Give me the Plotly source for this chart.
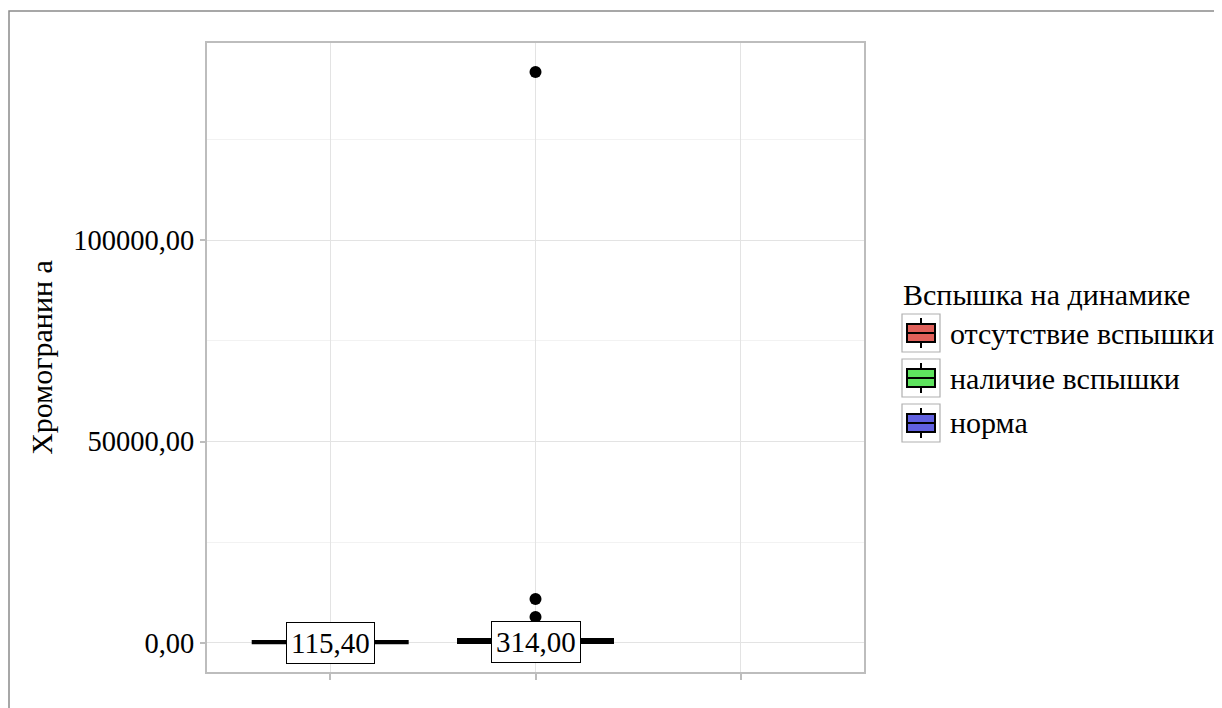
import plotly.graph_objects as go

# ---------------- data ----------------
categories = ["отсутствие вспышки", "наличие вспышки", "норма"]
colors = ["#e0605a", "#5ee35e", "#6060e0"]
q1 = [60.0, 150.0]
median = [115.40, 314.00]
q3 = [400.0, 850.0]
lowerfence = [20.0, 40.0]
upperfence = [900.0, 2400.0]
outlier_x = ["наличие вспышки", "наличие вспышки", "наличие вспышки"]
outlier_y = [141700.0, 10900.0, 6450.0]
median_labels = ["115,40", "314,00"]
ytick_vals = [0, 50000, 100000]
ytick_text = ["0,00", "50000,00", "100000,00"]
legend_title = "Вспышка на динамике"
y_title = "Хромогранин а"

# ---------------- layout geometry ----------------
W, H = 1222, 708
OFF = 8  # page body margin
L, R, T, B = 199, 366, 35, 44
pw, ph = W - L - R, H - T - B
FONT = "Liberation Serif"
FS_TICK = 28.5
FS_LAB = 29
FS_LEG = 30


def px(x):
    # x in screen pixels -> paper
    return (x - OFF - L) / pw


def py(y):
    return (H - B - (y - OFF)) / ph


fig = go.Figure()

for i in range(2):
    fig.add_trace(go.Box(
        x=[categories[i]], q1=[q1[i]], median=[median[i]], q3=[q3[i]],
        lowerfence=[lowerfence[i]], upperfence=[upperfence[i]],
        name=categories[i], fillcolor=colors[i],
        line=dict(color="black", width=3), width=0.75,
        boxpoints=False, showlegend=False, hoverinfo="skip",
    ))

# empty category placeholder
fig.add_trace(go.Box(x=[categories[2]], y=[None], name=categories[2],
                     showlegend=False, fillcolor=colors[2],
                     line=dict(color="black")))

fig.add_trace(go.Scatter(
    x=outlier_x, y=outlier_y, mode="markers",
    marker=dict(color="black", size=12), showlegend=False, hoverinfo="skip",
))

annotations = []
for i in range(2):
    annotations.append(dict(
        x=categories[i], y=median[i], xref="x", yref="y", text=median_labels[i],
        showarrow=False, font=dict(family=FONT, size=FS_LAB, color="black"),
        bgcolor="white", bordercolor="black", borderwidth=1, borderpad=4,
    ))

shapes = []
# outer frame
shapes.append(dict(type="rect", xref="paper", yref="paper",
                   x0=px(9), x1=px(1400), y0=py(900), y1=py(11),
                   line=dict(color="#8a8a8a", width=1.5), layer="below"))

# legend
annotations.append(dict(x=px(901), y=py(294), xref="paper", yref="paper",
                        xanchor="left", yanchor="middle", text=legend_title,
                        showarrow=False,
                        font=dict(family=FONT, size=FS_LEG, color="black")))
for i, cat in enumerate(categories):
    cy = 333 + 45 * i
    shapes.append(dict(type="rect", xref="paper", yref="paper",
                       x0=px(902), x1=px(940), y0=py(cy + 19), y1=py(cy - 19),
                       line=dict(color="#b0b0b0", width=1.2), fillcolor="white"))
    shapes.append(dict(type="line", xref="paper", yref="paper",
                       x0=px(921), x1=px(921), y0=py(cy + 15), y1=py(cy - 15),
                       line=dict(color="black", width=2)))
    shapes.append(dict(type="rect", xref="paper", yref="paper",
                       x0=px(907), x1=px(935), y0=py(cy + 9), y1=py(cy - 9),
                       line=dict(color="black", width=2), fillcolor=colors[i]))
    shapes.append(dict(type="line", xref="paper", yref="paper",
                       x0=px(907), x1=px(935), y0=py(cy), y1=py(cy),
                       line=dict(color="black", width=2)))
    annotations.append(dict(x=px(948), y=py(cy), xref="paper", yref="paper",
                            xanchor="left", yanchor="middle", text=cat,
                            showarrow=False,
                            font=dict(family=FONT, size=FS_LEG, color="black")))

fig.update_layout(
    width=W, height=H,
    margin=dict(l=L, r=R, t=T, b=B, autoexpand=False),
    paper_bgcolor="white", plot_bgcolor="white",
    font=dict(family=FONT, size=FS_TICK, color="black"),
    boxmode="overlay",
    showlegend=False,
    annotations=annotations,
    shapes=shapes,
)
fig.update_xaxes(
    type="category", categoryorder="array", categoryarray=categories,
    range=[-0.6, 2.6], showticklabels=False, ticks="outside", ticklen=6,
    tickcolor="#bdbdbd", tickwidth=1.5,
    showgrid=True, gridcolor="#e3e3e3", gridwidth=1,
    showline=True, linecolor="#bdbdbd", linewidth=2, mirror=True,
    zeroline=False,
)
fig.update_yaxes(
    range=[-7200, 148900], tickvals=ytick_vals, ticktext=ytick_text,
    ticks="outside", ticklen=5, tickcolor="#bdbdbd", tickwidth=1.5,
    tickfont=dict(family=FONT, size=FS_TICK, color="black"),
    showgrid=True, gridcolor="#e3e3e3", gridwidth=1,
    minor=dict(tickvals=[25000, 75000, 125000], showgrid=True,
               gridcolor="#f2f2f2", gridwidth=1, ticks=""),
    showline=True, linecolor="#bdbdbd", linewidth=2, mirror=True,
    zeroline=False,
    title=dict(text=y_title, font=dict(family=FONT, size=FS_LEG, color="black"),
               standoff=12),
)

fig.write_html("out.html")
